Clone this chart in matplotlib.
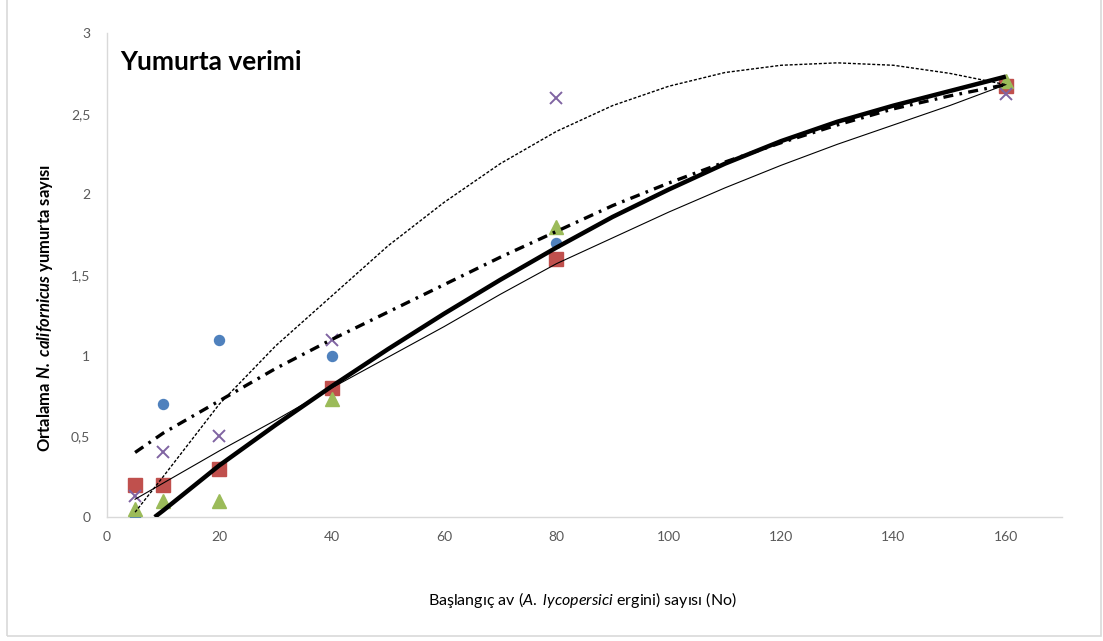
import matplotlib
matplotlib.use("Agg")
import matplotlib.pyplot as plt
from matplotlib.patches import Rectangle
from matplotlib.ticker import FuncFormatter, MultipleLocator

plt.rcParams['font.family'] = ['Lato', 'DejaVu Sans']
plt.rcParams['mathtext.fontset'] = 'custom'
plt.rcParams['mathtext.rm'] = 'Lato'
plt.rcParams['mathtext.it'] = 'Lato:italic'
plt.rcParams['mathtext.bf'] = 'Lato:bold:italic'

# observed data
x_obs = [5, 10, 20, 40, 80, 160]
blue_y = [0.0, 0.7, 1.1, 1.0, 1.7, 2.67]
red_y = [0.2, 0.2, 0.3, 0.8, 1.6, 2.67]
green_y = [0.05, 0.1, 0.1, 0.73, 1.8, 2.7]
purple_y = [0.13, 0.4, 0.5, 1.1, 2.6, 2.62]

# model curves
curve_x = [5, 10, 20, 30, 40, 50, 60, 70, 80, 90, 100, 110, 120, 130, 140, 150, 160]
dotted_y = [0.03, 0.25, 0.70, 1.06, 1.37, 1.68, 1.95, 2.19, 2.39, 2.55, 2.67, 2.755, 2.80, 2.815, 2.80, 2.75, 2.68]
thin_y = [0.11, 0.21, 0.41, 0.60, 0.80, 0.99, 1.18, 1.38, 1.57, 1.73, 1.89, 2.04, 2.18, 2.31, 2.43, 2.55, 2.68]
dashdot_y = [0.40, 0.52, 0.72, 0.92, 1.10, 1.27, 1.44, 1.61, 1.77, 1.93, 2.07, 2.20, 2.32, 2.43, 2.53, 2.61, 2.68]
thick_x = [8.5, 10, 20, 30, 40, 50, 60, 70, 80, 90, 100, 110, 120, 130, 140, 150, 160]
thick_y = [0.0, 0.04, 0.32, 0.57, 0.81, 1.04, 1.26, 1.47, 1.67, 1.86, 2.03, 2.19, 2.33, 2.45, 2.55, 2.64, 2.73]

x_ticks = [0, 20, 40, 60, 80, 100, 120, 140, 160]

fig = plt.figure(figsize=(11.03, 6.41), dpi=100)
ax = fig.add_axes([107/1103, 1 - 517/641, (1062-107)/1103, (517-33)/641])

# chart outer border
fig.patches.append(Rectangle((6.5/1103, 5/641), (1100.5-6.5)/1103, 1.0, transform=fig.transFigure,
                             fill=False, edgecolor='#D9D9D9', linewidth=1.2))

ax.plot(x_obs, blue_y, 'o', color='#4F81BD', markersize=7.2, zorder=3, linestyle='none')
ax.plot(x_obs, red_y, 's', color='#C0504D', markersize=9.5, zorder=3, linestyle='none')
ax.plot(x_obs, green_y, '^', color='#9BBB59', markersize=10, zorder=3, linestyle='none')
ax.plot(x_obs, purple_y, 'x', color='#8064A2', markersize=9, markeredgewidth=1.4, zorder=3, linestyle='none')

ax.plot(curve_x, dotted_y, color='black', lw=1.0, linestyle=(0, (2.2, 1.3)), zorder=4)
ax.plot(curve_x, thin_y, color='black', lw=0.8, zorder=4)
ax.plot(curve_x, dashdot_y, color='black', lw=2.4, linestyle=(0, (3.0, 1.9, 0.8, 1.9)), zorder=4)
ax.plot(thick_x, thick_y, color='black', lw=3.2, zorder=4, solid_capstyle='butt')

ax.set_xlim(0, 170)
ax.set_ylim(0, 3)
ax.set_xticks(x_ticks)
ax.yaxis.set_major_locator(MultipleLocator(0.5))
ax.yaxis.set_major_formatter(FuncFormatter(lambda v, p: ('%g' % v).replace('.', ',')))

for s in ['top', 'right']:
    ax.spines[s].set_visible(False)
for s in ['left', 'bottom']:
    ax.spines[s].set_color('#D9D9D9')
    ax.spines[s].set_linewidth(1.0)
ax.tick_params(length=0, labelsize=10, labelcolor='#595959', pad=10)
ax.tick_params(axis='y', pad=12)

ax.text(120/1103, 1 - 62/641, 'Yumurta verimi', transform=fig.transFigure, fontsize=19,
        fontweight='bold', va='center', ha='left')

fig.text(45/1103, 1 - 308/641, r'Ortalama $\mathbf{N.}$ $\mathbf{californicus}$ yumurta sayısı', rotation=90,
         fontsize=12, fontweight='bold', ha='center', va='center')
fig.text(582/1103, 1 - 600/641, r'Başlangıç av ($\mathit{A.}$ $\mathit{lycopersici}$ ergini) sayısı (No)',
         fontsize=11.5, ha='center', va='center')

fig.savefig('out.png', dpi=100)
